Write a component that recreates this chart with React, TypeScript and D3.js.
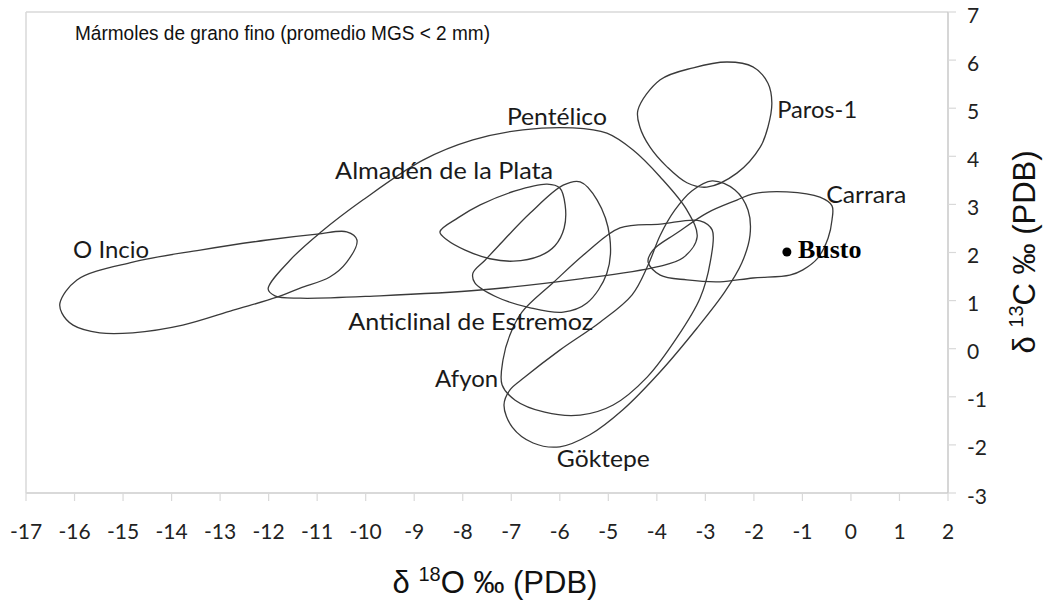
import React from "react";
import * as d3 from "d3";

type P = [number, number];

// Axis ticks
const xTickValues = [-17, -16, -15, -14, -13, -12, -11, -10, -9, -8, -7, -6, -5, -4, -3, -2, -1, 0, 1, 2];
const yTickValues = [-3, -2, -1, 0, 1, 2, 3, 4, 5, 6, 7];

// Field contours (δ18O, δ13C)
const oIncio: P[] = [
  [-16.3, 0.95], [-15.95, 1.43], [-14.8, 1.8], [-13.41, 2.05], [-12.03, 2.26], [-11.0, 2.38],
  [-10.39, 2.43], [-10.18, 2.26], [-10.39, 1.8], [-10.74, 1.49], [-11.35, 1.26], [-11.83, 1.07],
  [-12.73, 0.8], [-13.77, 0.49], [-14.8, 0.33], [-15.48, 0.33], [-16.03, 0.49], [-16.26, 0.74],
];
const pentelico: P[] = [
  [-12.01, 1.24], [-11.56, 1.84], [-10.94, 2.41], [-10.06, 3.09], [-8.82, 3.92], [-7.79, 4.34],
  [-6.76, 4.55], [-5.73, 4.59], [-5.03, 4.48], [-4.49, 4.13], [-3.93, 3.57], [-3.38, 2.88],
  [-3.17, 2.32], [-3.46, 1.89], [-4.0, 1.7], [-5.58, 1.45], [-7.64, 1.22], [-9.71, 1.1],
  [-11.35, 1.05], [-11.87, 1.1],
];
const almaden: P[] = [
  [-8.47, 2.43], [-8.1, 2.72], [-7.64, 2.99], [-6.92, 3.28], [-6.26, 3.42], [-6.0, 3.34],
  [-5.89, 2.99], [-5.91, 2.51], [-6.1, 2.14], [-6.41, 1.93], [-6.96, 1.82], [-7.44, 1.87],
  [-7.95, 2.05], [-8.32, 2.26],
];
const estremoz: P[] = [
  [-7.79, 1.57], [-7.54, 1.84], [-7.29, 2.11], [-6.61, 2.82], [-5.93, 3.4], [-5.58, 3.47],
  [-5.23, 3.09], [-4.97, 2.32], [-5.03, 1.57], [-5.44, 0.95], [-5.93, 0.76], [-6.61, 0.85],
  [-7.29, 1.07], [-7.75, 1.37],
];
const paros: P[] = [
  [-4.39, 4.96], [-3.93, 5.59], [-3.25, 5.84], [-2.55, 5.96], [-2.02, 5.86], [-1.71, 5.52],
  [-1.63, 5.11], [-1.71, 4.61], [-1.87, 4.19], [-2.35, 3.65], [-2.97, 3.36], [-3.38, 3.45],
  [-3.79, 3.78], [-4.14, 4.19], [-4.35, 4.61],
];
const carrara: P[] = [
  [-4.18, 1.8], [-4.08, 2.05], [-3.58, 2.41], [-2.97, 2.82], [-2.35, 3.09], [-2.02, 3.22],
  [-1.32, 3.26], [-0.64, 3.15], [-0.39, 2.97], [-0.39, 2.68], [-0.47, 2.3], [-0.68, 1.89],
  [-0.99, 1.64], [-1.26, 1.53], [-2.02, 1.47], [-2.7, 1.39], [-3.38, 1.43], [-3.93, 1.53],
];
const afyon: P[] = [
  [-7.19, -0.75], [-7.17, -0.23], [-7.03, 0.28], [-6.78, 0.76], [-6.14, 1.37], [-5.44, 2.01],
  [-4.76, 2.51], [-3.93, 2.59], [-3.11, 2.66], [-2.86, 2.47], [-2.9, 1.8], [-3.11, 1.05],
  [-3.58, 0.24], [-4.2, -0.59], [-4.9, -1.17], [-5.58, -1.38], [-6.31, -1.32], [-6.92, -1.07],
];
const goktepe: P[] = [
  [-2.86, 3.49], [-2.39, 3.3], [-2.12, 2.88], [-2.08, 2.36], [-2.25, 1.78], [-2.6, 1.18],
  [-3.17, 0.43], [-3.93, -0.48], [-4.7, -1.27], [-5.38, -1.79], [-6.0, -2.04], [-6.55, -1.96],
  [-6.98, -1.63], [-7.15, -1.17], [-7.03, -0.86], [-6.72, -0.59], [-6.0, -0.03], [-5.17, 0.55],
  [-4.51, 1.12], [-4.18, 1.74], [-3.93, 2.36], [-3.63, 2.88], [-3.28, 3.28],
];

// Field names and their label anchors (δ18O, δ13C)
const fieldNames = ["O Incio", "Pentélico", "Almadén de la Plata", "Anticlinal de Estremoz", "Paros-1", "Carrara", "Afyon", "Göktepe"];
const fieldContours = [oIncio, pentelico, almaden, estremoz, paros, carrara, afyon, goktepe];
const labelAnchors: P[] = [
  [-16.03, 1.89], [-7.09, 4.65], [-10.63, 3.53], [-10.36, 0.39], [-1.52, 4.8], [-0.51, 3.03],
  [-8.57, -0.8], [-6.06, -2.46],
];

// Sample point
const sampleName = "Busto";
const sampleValue: P = [-1.32, 2.01];

const title = "Mármoles de grano fino (promedio MGS < 2 mm)";

// Label widths (style)
const labelWidths = [76, 100, 218, 245, 80, 80, 63, 93];

export default function App() {
  const x = d3.scaleLinear().domain([-17, 2]).range([26, 948]);
  const y = d3.scaleLinear().domain([-3, 7]).range([493, 12]);
  const line = d3
    .line<P>()
    .x((d) => x(d[0]))
    .y((d) => y(d[1]))
    .curve(d3.curveCatmullRomClosed.alpha(0.5));

  const calibri = "Lato, 'Open Sans', sans-serif";
  const arial = "'Liberation Sans', Arial, sans-serif";
  const gridColor = "#d9d9d9";

  return (
    <svg
      width={1044}
      height={600}
      style={{ position: "absolute", left: 0, top: 0, background: "#fff" }}
    >
      {/* plot frame */}
      <line x1={x(-17)} x2={x(2)} y1={y(7)} y2={y(7)} stroke={gridColor} strokeWidth={1.5} />
      <line x1={x(-17)} x2={x(-17)} y1={y(7)} y2={y(-3)} stroke={gridColor} strokeWidth={1.5} />
      <line x1={x(-17)} x2={x(2)} y1={y(-3)} y2={y(-3)} stroke={gridColor} strokeWidth={2} />
      <line x1={x(2)} x2={x(2)} y1={y(7)} y2={y(-3)} stroke="#c8c8c8" strokeWidth={1.5} />

      {/* x ticks */}
      {xTickValues.map((v) => (
        <g key={"xt" + v}>
          <line x1={x(v)} x2={x(v)} y1={y(-3)} y2={y(-3) + 8} stroke={gridColor} strokeWidth={1.2} />
          <text x={x(v)} y={539} textAnchor="middle" fontFamily={calibri} fontSize={21} fill="#222">
            {v}
          </text>
        </g>
      ))}

      {/* y ticks */}
      {yTickValues.map((v) => (
        <g key={"yt" + v}>
          <line x1={x(2)} x2={x(2) + 8} y1={y(v)} y2={y(v)} stroke={gridColor} strokeWidth={1.2} />
          <text x={967} y={y(v) + 10.5} textAnchor="start" fontFamily={calibri} fontSize={21} fill="#222">
            {v}
          </text>
        </g>
      ))}

      {/* contours */}
      {fieldContours.map((pts, i) => (
        <path key={"c" + i} d={line(pts) || ""} fill="none" stroke="#3a3a3a" strokeWidth={1.3} />
      ))}

      {/* contour labels */}
      {fieldNames.map((n, i) => (
        <text
          key={"l" + i}
          x={x(labelAnchors[i][0])}
          y={y(labelAnchors[i][1])}
          fontFamily={calibri}
          fontSize={24}
          fill="#1a1a1a"
          textLength={labelWidths[i]}
          lengthAdjust="spacingAndGlyphs"
        >
          {n}
        </text>
      ))}

      {/* sample */}
      <circle cx={x(sampleValue[0])} cy={y(sampleValue[1])} r={4.5} fill="#000" />
      <text
        x={x(sampleValue[0]) + 11}
        y={y(sampleValue[1]) + 6}
        fontFamily="'Liberation Serif', 'Times New Roman', serif"
        fontWeight="bold"
        fontSize={26}
        fill="#000"
      >
        {sampleName}
      </text>

      {/* title */}
      <text x={75} y={40} fontFamily={arial} fontSize={20.5} fill="#111" textLength={415} lengthAdjust="spacingAndGlyphs">
        {title}
      </text>

      {/* x axis title */}
      <text x={495} y={593} textAnchor="middle" fontFamily={arial} fontSize={31} fill="#111">
        {"δ "}
        <tspan fontSize={20} dy={-12}>18</tspan>
        <tspan dy={12}>{"O ‰ (PDB)"}</tspan>
      </text>

      {/* y axis title */}
      <text
        transform="translate(1035,252) rotate(-90)"
        textAnchor="middle"
        fontFamily={arial}
        fontSize={31}
        fill="#111"
      >
        {"δ "}
        <tspan fontSize={20} dy={-12}>13</tspan>
        <tspan dy={12}>{"C ‰ (PDB)"}</tspan>
      </text>
    </svg>
  );
}
